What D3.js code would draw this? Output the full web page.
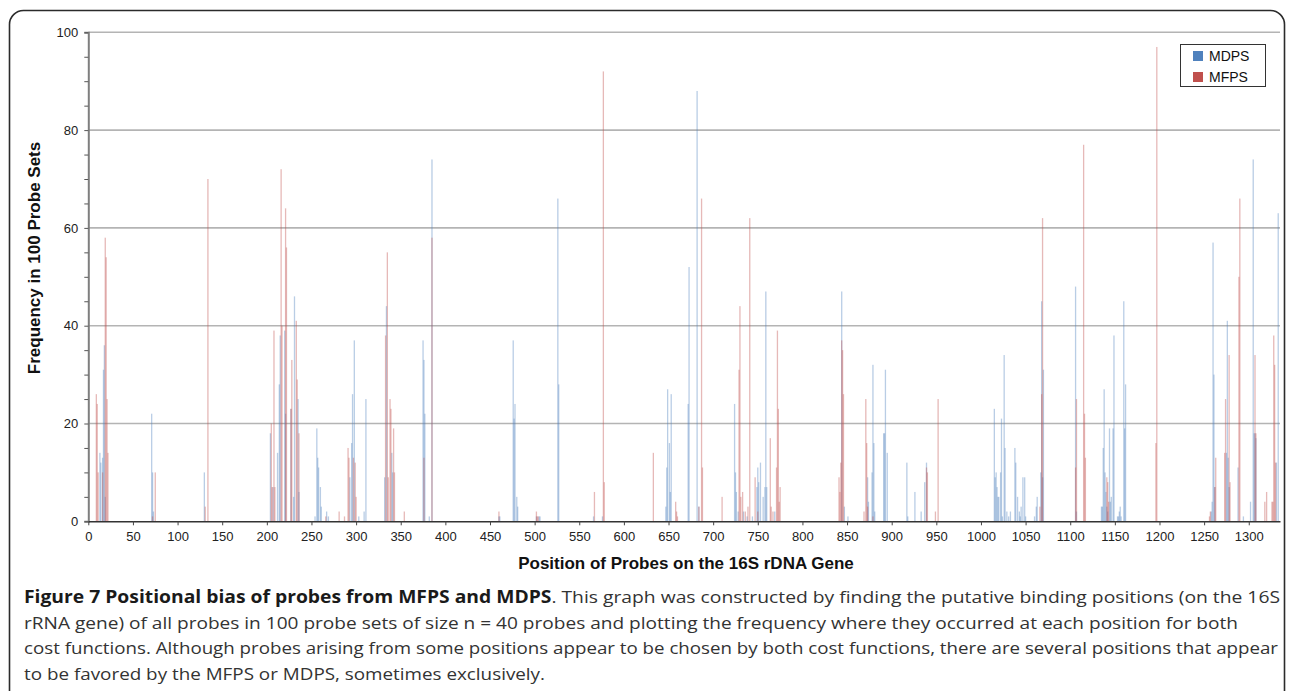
<!DOCTYPE html>
<html><head><meta charset="utf-8">
<script src="https://cdn.jsdelivr.net/npm/d3@7"></script>
<style>body{margin:0;background:#fff}svg{display:block}</style>
</head><body>
<script>
// ---- data (position on 16S rDNA gene, frequency in 100 probe sets) ----
const mdpsPos = [13,14,16,17,18,19,71,72,73,130,204,207,212,214,215,220,221,227,230,231,235,236,254,256,257,258,260,261,267,269,293,295,296,298,303,309,311,332,334,340,341,375,376,377,382,385,460,461,476,477,478,480,481,502,505,506,526,527,566,576,647,648,649,651,652,653,672,673,682,684,724,725,726,728,734,738,744,749,750,751,753,756,758,759,760,769,844,847,851,873,874,878,879,880,881,891,892,893,895,917,918,926,933,937,939,1015,1016,1017,1018,1019,1020,1022,1023,1024,1026,1027,1029,1031,1033,1038,1039,1041,1043,1044,1045,1047,1049,1050,1060,1062,1063,1067,1068,1069,1070,1106,1107,1135,1136,1137,1138,1139,1140,1141,1142,1144,1145,1146,1148,1149,1153,1154,1155,1156,1157,1160,1161,1162,1258,1259,1260,1261,1262,1275,1276,1277,1278,1288,1294,1302,1305,1306,1307,1308,1331,1333];
const mdpsVal = [14,12,13,31,36,5,22,10,2,10,18,7,14,28,38,39,22,23,5,46,25,6,1,19,13,11,7,3,2,1,9,16,26,37,1,2,25,9,44,14,10,37,33,22,1,74,1,1,37,21,24,5,3,1,1,1,66,28,1,1,3,11,27,16,6,26,24,52,88,3,24,10,6,2,2,1,1,7,11,8,12,5,7,47,7,2,47,3,1,9,4,10,32,16,2,18,18,31,14,12,1,6,2,8,12,23,9,10,7,5,5,10,21,1,34,15,2,1,2,15,12,5,2,1,3,9,9,1,1,3,5,10,45,9,31,48,2,3,3,15,27,10,6,3,2,19,4,5,19,38,1,1,2,3,1,45,19,28,2,4,57,30,7,14,41,13,7,11,1,4,74,18,18,17,12,63];
const mfpsPos = [9,10,11,16,19,20,21,22,72,75,131,134,205,206,208,209,216,217,221,222,227,228,233,234,236,266,281,287,291,292,297,299,300,333,335,336,338,339,342,343,354,376,385,460,502,503,504,567,577,578,633,658,659,660,684,687,688,710,729,730,731,733,736,739,741,747,750,764,765,767,771,772,773,774,775,841,842,843,844,845,846,869,871,872,873,879,939,940,949,952,1066,1068,1069,1106,1107,1115,1116,1117,1141,1142,1143,1196,1197,1256,1257,1262,1263,1273,1274,1278,1279,1289,1290,1307,1308,1318,1320,1326,1327,1328,1329,1330];
const mfpsVal = [26,24,10,10,58,54,25,14,1,10,3,70,20,7,39,7,72,40,64,56,23,33,41,29,18,1,2,1,15,13,13,12,5,38,55,9,25,23,19,10,2,13,58,2,2,1,1,6,92,8,14,4,2,1,3,66,11,5,31,44,5,6,2,3,62,9,2,17,3,2,11,39,23,4,7,9,6,12,37,35,26,2,25,16,3,1,11,10,2,25,3,26,62,11,25,77,22,13,9,8,4,16,97,1,2,7,13,14,25,34,8,50,66,34,18,4,6,4,4,38,32,12];
const seriesNames = ["MDPS","MFPS"];
const seriesColors = ["#4F81BD","#C0504D"];
const yTicks = [0,20,40,60,80,100];
const xTicks = d3.range(0,1301,50);
const captionBold = "Figure 7 Positional bias of probes from MFPS and MDPS";
const captionLines = [
 ". This graph was constructed by finding the putative binding positions (on the 16S",
 "rRNA gene) of all probes in 100 probe sets of size n = 40 probes and plotting the frequency where they occurred at each position for both",
 "cost functions. Although probes arising from some positions appear to be chosen by both cost functions, there are several positions that appear",
 "to be favored by the MFPS or MDPS, sometimes exclusively."
];

const W=1292,H=691;
const svg=d3.select("body").append("svg").attr("width",W).attr("height",H);
const F="'Liberation Sans', Arial, sans-serif";

// frame
svg.append("rect").attr("x",9.5).attr("y",10.5).attr("width",1275).attr("height",720)
  .attr("rx",14).attr("fill","none").attr("stroke","#2b2b2b").attr("stroke-width",1.6);

const x=d3.scaleLinear().domain([0,1335]).range([88.3,1280]);
const y=d3.scaleLinear().domain([0,100]).range([521.3,32.3]);

// grid
svg.append("g").selectAll("line").data(yTicks.filter(d=>d>0)).join("line")
  .attr("x1",x(0)).attr("x2",x(1335)).attr("y1",d=>y(d)).attr("y2",d=>y(d))
  .attr("stroke","#b4b4b4").attr("stroke-width",1.6);

// bars
const series=[
  mdpsPos.map((p,i)=>({p,v:mdpsVal[i]})),
  mfpsPos.map((p,i)=>({p,v:mfpsVal[i]}))
];
series.forEach((s,si)=>{
  svg.append("g").selectAll("rect").data(s).join("rect")
    .attr("x",d=>x(d.p)-0.65).attr("width",1.3)
    .attr("y",d=>y(d.v)).attr("height",d=>y(0)-y(d.v))
    .attr("fill",seriesColors[si]).attr("fill-opacity",0.4);
});

// y axis
const yAxis=d3.axisLeft(y).tickValues(d3.range(0,101,5)).tickSize(4).tickPadding(6)
  .tickFormat(d=>d%20===0?d:"");
const gy=svg.append("g").attr("transform",`translate(${x(0)},0)`).call(yAxis);
gy.select(".domain").attr("stroke","#7f7f7f").attr("stroke-width",2);
gy.selectAll(".tick line").attr("stroke","#555").attr("stroke-width",1);
gy.selectAll("text").attr("font-family",F).attr("font-size",13).attr("fill","#222");

// x axis
const xAxis=d3.axisBottom(x).tickValues(xTicks).tickSize(4).tickPadding(6).tickSizeOuter(0)
  .tickFormat(d3.format("d"));
const gx=svg.append("g").attr("transform",`translate(0,${y(0)})`).call(xAxis);
gx.select(".domain").attr("stroke","#333").attr("stroke-width",1.6);
gx.selectAll(".tick line").attr("stroke","#444").attr("stroke-width",1);
gx.selectAll("text").attr("font-family",F).attr("font-size",13).attr("fill","#222");

// titles
svg.append("text").attr("transform","translate(40,258) rotate(-90)").attr("text-anchor","middle")
  .attr("font-family",F).attr("font-weight","bold").attr("font-size",17).attr("fill","#111")
  .text("Frequency in 100 Probe Sets");
svg.append("text").attr("x",686).attr("y",569).attr("text-anchor","middle")
  .attr("font-family",F).attr("font-weight","bold").attr("font-size",17).attr("fill","#111")
  .text("Position of Probes on the 16S rDNA Gene");

// legend
const lg=svg.append("g");
lg.append("rect").attr("x",1180.5).attr("y",44.5).attr("width",85).attr("height",42)
  .attr("fill","#fff").attr("stroke","#333").attr("stroke-width",1);
seriesNames.forEach((n,i)=>{
  lg.append("rect").attr("x",1193).attr("y",51+i*21).attr("width",10).attr("height",10).attr("fill",seriesColors[i]);
  lg.append("text").attr("x",1209).attr("y",61+i*21).attr("font-family",F).attr("font-size",14).attr("fill","#111").text(n);
});

// caption
const CF="'Open Sans', 'Noto Sans', sans-serif";
const lens=[1256,1214,1254,521];
const bases=[603,629,654,680];
captionLines.forEach((t,i)=>{
  const tx=svg.append("text").attr("x",24).attr("y",bases[i]).attr("font-family",CF)
    .attr("font-size",17).attr("fill","#333").attr("textLength",lens[i]).attr("lengthAdjust","spacingAndGlyphs");
  if(i===0){
    tx.append("tspan").attr("font-weight","bold").attr("fill","#1a1a1a").text(captionBold);
  }
  tx.append("tspan").text(t);
});
</script>
</body></html>
